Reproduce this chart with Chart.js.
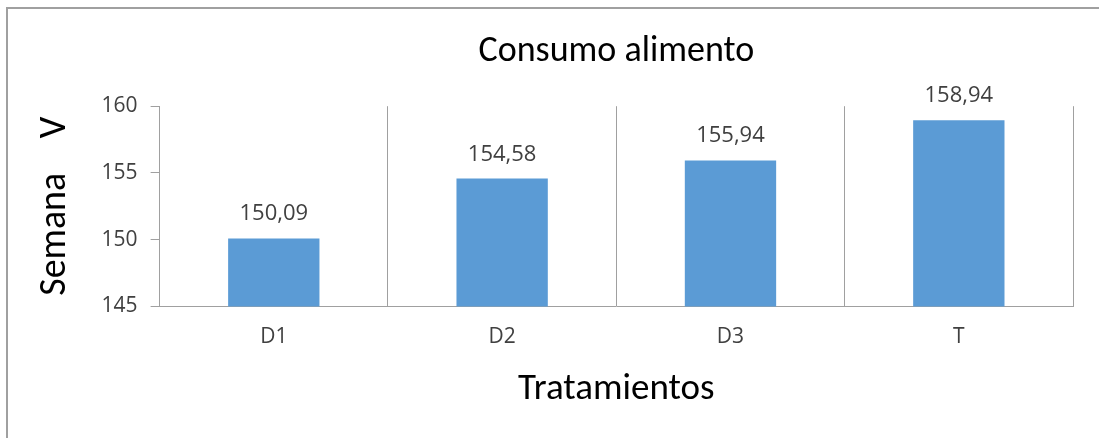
<!DOCTYPE html>
<html>
<head>
<meta charset="utf-8">
<script src="https://cdn.jsdelivr.net/npm/chart.js@4"></script>
<style>
    html, body { margin: 0; padding: 0; background: #ffffff; overflow: hidden; }
    #frame {
        position: absolute; left: 6px; top: 7px; width: 1093px; height: 431px;
        box-sizing: border-box;
        border-left: 2px solid #a0a0a0; border-top: 2px solid #a0a0a0;
    }
    #wrap { position: absolute; left: 0; top: 0; width: 1099px; height: 438px; }
</style>
</head>
<body>
<div id="frame"></div>
<div id="wrap"><canvas id="myChart"></canvas></div>
<script>

let labels = ['D1', 'D2', 'D3', 'T']
let consumo = [150.09, 154.58, 155.94, 158.94]
let yTicks = [145, 150, 155, 160]

const fontName = 'Carlito, Calibri, "Liberation Sans Narrow", "Open Sans", sans-serif'

// etiquetas de valor encima de las barras
const valueLabels = {
    id: 'valueLabels',
    afterDatasetsDraw(chart) {
        const ctx = chart.ctx
        const meta = chart.getDatasetMeta(0)
        ctx.save()
        ctx.font = '22px "Open Sans", sans-serif'
        ctx.fillStyle = '#404040'
        ctx.textAlign = 'center'
        ctx.textBaseline = 'alphabetic'
        meta.data.forEach((bar, i) => {
            let txt = consumo[i].toFixed(2).replace('.', ',')
            ctx.fillText(txt, bar.x, bar.y - 18)
        })
        ctx.restore()
    }
}

const ctx = myChart.getContext('2d');
chart = new Chart(ctx, {
    type: 'bar',
    data: {
        labels: labels,
        datasets: [{
            label: 'Consumo alimento',
            data: consumo,
            backgroundColor: '#5B9BD5',
            borderWidth: 0,
            barPercentage: 0.4,
            categoryPercentage: 1.0,
        }]
    },
    options: {
        responsive: true,
        maintainAspectRatio: false,
        animation: false,
        layout: {
            padding: { left: 10, right: 26, top: 0, bottom: 26 }
        },
        plugins: {
            legend: { display: false },
            tooltip: { enabled: false },
            title: {
                display: true,
                fullSize: false,
                text: 'Consumo alimento',
                color: '#000000',
                font: { family: fontName, size: 36, weight: 'normal' },
                padding: { top: 30, bottom: 33 }
            }
        },
        scales: {
            x: {
                offset: true,
                grid: {
                    offset: true,
                    color: '#a0a0a0',
                    lineWidth: 1,
                    drawTicks: false
                },
                border: { display: true, color: '#a0a0a0', width: 1 },
                ticks: {
                    color: '#404040',
                    padding: 18,
                    font: { family: '"Open Sans", sans-serif', size: 21 }
                },
                title: {
                    display: true,
                    text: 'Tratamientos',
                    color: '#000000',
                    font: { family: fontName, size: 37 },
                    padding: { top: 0, bottom: 0 }
                }
            },
            y: {
                min: 145,
                max: 160,
                afterBuildTicks: (axis) => {
                    axis.ticks = yTicks.map(v => ({ value: v }))
                },
                grid: {
                    drawOnChartArea: false,
                    drawTicks: true,
                    tickLength: 9,
                    color: '#a0a0a0'
                },
                border: { display: true, color: '#a0a0a0', width: 1 },
                ticks: {
                    color: '#404040',
                    padding: 13,
                    font: { family: '"Open Sans", sans-serif', size: 21 }
                },
                title: {
                    display: true,
                    text: 'Semana    V',
                    color: '#000000',
                    font: { family: fontName, size: 38 },
                    padding: { top: 23, bottom: 10 }
                }
            }
        }
    },
    plugins: [valueLabels]
});
</script>
</body>
</html>
